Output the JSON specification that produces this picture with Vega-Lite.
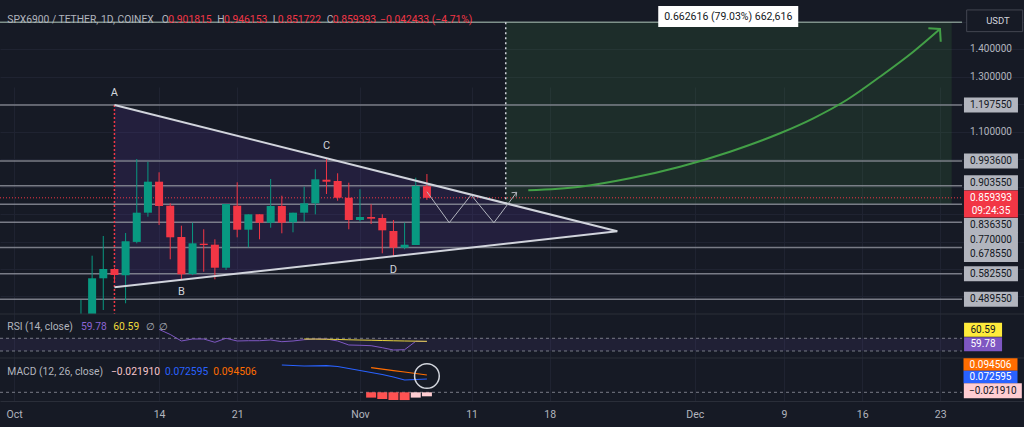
{
  "$schema": "https://vega.github.io/schema/vega-lite/v6.json",
  "background": "#161a25",
  "padding": {"left": 0, "top": 0, "right": 0, "bottom": 26},
  "width": 1024,
  "height": 401,
  "autosize": {"type": "none"},
  "config": {
    "view": {"stroke": null},
    "font": "Roboto",
    "text": {"font": "Roboto"}
  },
  "datasets": {
    "candles": [
      {"date": "2024-10-07T00:00:00Z", "open": 0.38, "high": 0.487, "low": 0.37, "close": 0.4},
      {"date": "2024-10-08T00:00:00Z", "open": 0.4, "high": 0.6485, "low": 0.39, "close": 0.5661},
      {"date": "2024-10-09T00:00:00Z", "open": 0.5661, "high": 0.7203, "low": 0.4506, "close": 0.6},
      {"date": "2024-10-10T00:00:00Z", "open": 0.6, "high": 0.605, "low": 0.55, "close": 0.5781},
      {"date": "2024-10-11T00:00:00Z", "open": 0.577, "high": 0.7312, "low": 0.475, "close": 0.7009},
      {"date": "2024-10-12T00:00:00Z", "open": 0.6987, "high": 1.0009, "low": 0.6936, "close": 0.8052},
      {"date": "2024-10-13T00:00:00Z", "open": 0.8052, "high": 0.991, "low": 0.7906, "close": 0.9182},
      {"date": "2024-10-14T00:00:00Z", "open": 0.9182, "high": 0.9524, "low": 0.7603, "close": 0.8296},
      {"date": "2024-10-15T00:00:00Z", "open": 0.8307, "high": 0.8394, "low": 0.6353, "close": 0.7155},
      {"date": "2024-10-16T00:00:00Z", "open": 0.7166, "high": 0.7578, "low": 0.5599, "close": 0.5807},
      {"date": "2024-10-17T00:00:00Z", "open": 0.5818, "high": 0.7687, "low": 0.5781, "close": 0.6936},
      {"date": "2024-10-18T00:00:00Z", "open": 0.6922, "high": 0.7447, "low": 0.5901, "close": 0.6875},
      {"date": "2024-10-19T00:00:00Z", "open": 0.6885, "high": 0.7082, "low": 0.5624, "close": 0.6047},
      {"date": "2024-10-20T00:00:00Z", "open": 0.6047, "high": 0.8369, "low": 0.5963, "close": 0.8369},
      {"date": "2024-10-21T00:00:00Z", "open": 0.8307, "high": 0.916, "low": 0.7155, "close": 0.7432},
      {"date": "2024-10-22T00:00:00Z", "open": 0.7432, "high": 0.7993, "low": 0.6791, "close": 0.7993},
      {"date": "2024-10-23T00:00:00Z", "open": 0.7993, "high": 0.7993, "low": 0.7082, "close": 0.7687},
      {"date": "2024-10-24T00:00:00Z", "open": 0.7687, "high": 0.928, "low": 0.7505, "close": 0.8296},
      {"date": "2024-10-25T00:00:00Z", "open": 0.8296, "high": 0.8671, "low": 0.7301, "close": 0.7687},
      {"date": "2024-10-26T00:00:00Z", "open": 0.7702, "high": 0.8052, "low": 0.7337, "close": 0.8052},
      {"date": "2024-10-27T00:00:00Z", "open": 0.8052, "high": 0.8999, "low": 0.7724, "close": 0.8394},
      {"date": "2024-10-28T00:00:00Z", "open": 0.8394, "high": 0.9633, "low": 0.7993, "close": 0.9269},
      {"date": "2024-10-29T00:00:00Z", "open": 0.9254, "high": 1.0009, "low": 0.8733, "close": 0.9182},
      {"date": "2024-10-30T00:00:00Z", "open": 0.9207, "high": 0.9488, "low": 0.8489, "close": 0.8598},
      {"date": "2024-10-31T00:00:00Z", "open": 0.8598, "high": 0.9145, "low": 0.7447, "close": 0.7786},
      {"date": "2024-11-01T00:00:00Z", "open": 0.7786, "high": 0.8905, "low": 0.7724, "close": 0.7895},
      {"date": "2024-11-02T00:00:00Z", "open": 0.7895, "high": 0.8358, "low": 0.764, "close": 0.7833},
      {"date": "2024-11-03T00:00:00Z", "open": 0.7859, "high": 0.7993, "low": 0.6572, "close": 0.741},
      {"date": "2024-11-04T00:00:00Z", "open": 0.7385, "high": 0.7786, "low": 0.6437, "close": 0.6776},
      {"date": "2024-11-05T00:00:00Z", "open": 0.6776, "high": 0.7687, "low": 0.6718, "close": 0.6885},
      {"date": "2024-11-06T00:00:00Z", "open": 0.6875, "high": 0.9327, "low": 0.6875, "close": 0.9025},
      {"date": "2024-11-07T00:00:00Z", "open": 0.901815, "high": 0.946153, "low": 0.851722, "close": 0.859393}
    ],
    "levels": [
      {"price": 1.19755}, {"price": 0.9936}, {"price": 0.90355}, {"price": 0.83635},
      {"price": 0.77}, {"price": 0.67855}, {"price": 0.58255}, {"price": 0.48955}
    ],
    "ticks": [{"price": 1.4}, {"price": 1.3}, {"price": 1.1}],
    "last": [{"price": 0.859393, "timer": "09:24:35"}],
    "target": [{"start": "2024-11-14T01:30:00Z", "end": "2024-12-24T00:30:00Z", "low": 0.83635, "high": 1.498966, "label": "0.662616 (79.03%) 662,616", "mid": "2024-12-04T00:00:00Z"}],
    "triangle": [
      {"date": "2024-10-10T00:00:00Z", "upper": 1.19755, "lower": 0.5333},
      {"date": "2024-11-24T01:26:00Z", "upper": 0.7374, "lower": 0.7374}
    ],
    "zigzag": [
      {"i": 0, "date": "2024-11-07T00:00:00Z", "price": 0.8817},
      {"i": 1, "date": "2024-11-09T00:00:00Z", "price": 0.7687},
      {"i": 2, "date": "2024-11-10T23:00:00Z", "price": 0.8697},
      {"i": 3, "date": "2024-11-13T00:00:00Z", "price": 0.7687},
      {"i": 4, "date": "2024-11-15T01:00:00Z", "price": 0.8795}
    ],
    "zighead": [
      {"i": 0, "date": "2024-11-14T14:00:00Z", "price": 0.8781},
      {"i": 1, "date": "2024-11-15T01:00:00Z", "price": 0.8795},
      {"i": 2, "date": "2024-11-14T23:40:00Z", "price": 0.8635}
    ],
    "curve": [
      {"i": 0, "date": "2024-11-16T02:00:00Z", "price": 0.8868},
      {"i": 1, "date": "2024-11-20T17:15:00Z", "price": 0.9},
      {"i": 2, "date": "2024-11-25T04:45:00Z", "price": 0.9305},
      {"i": 3, "date": "2024-11-29T16:20:00Z", "price": 0.9728},
      {"i": 4, "date": "2024-12-04T03:50:00Z", "price": 1.0275},
      {"i": 5, "date": "2024-12-08T15:20:00Z", "price": 1.0946},
      {"i": 6, "date": "2024-12-11T15:00:00Z", "price": 1.1492},
      {"i": 7, "date": "2024-12-14T14:40:00Z", "price": 1.2159},
      {"i": 8, "date": "2024-12-17T14:20:00Z", "price": 1.3008},
      {"i": 9, "date": "2024-12-20T14:00:00Z", "price": 1.392},
      {"i": 10, "date": "2024-12-22T23:20:00Z", "price": 1.4747}
    ],
    "curvehead": [
      {"i": 0, "date": "2024-12-21T22:20:00Z", "price": 1.4772},
      {"i": 1, "date": "2024-12-22T23:20:00Z", "price": 1.4747},
      {"i": 2, "date": "2024-12-23T01:00:00Z", "price": 1.4284}
    ],
    "letters": [
      {"t": "A", "date": "2024-10-10T00:00:00Z", "price": 1.2414},
      {"t": "B", "date": "2024-10-16T00:00:00Z", "price": 0.5162},
      {"t": "C", "date": "2024-10-29T00:00:00Z", "price": 1.0483},
      {"t": "D", "date": "2024-11-04T00:00:00Z", "price": 0.5963}
    ],
    "header": [
      {"t": "SPX6900 / TETHER, 1D, COINEX", "at": "2024-09-30T09:36:00Z", "k": "lab"},
      {"t": "O", "at": "2024-10-14T05:38:00Z", "k": "lab"},
      {"t": "0.901815", "at": "2024-10-14T19:50:00Z", "k": "val"},
      {"t": "H", "at": "2024-10-19T05:12:00Z", "k": "lab"},
      {"t": "0.946153", "at": "2024-10-19T19:36:00Z", "k": "val"},
      {"t": "L", "at": "2024-10-24T04:19:00Z", "k": "lab"},
      {"t": "0.851722", "at": "2024-10-24T15:07:00Z", "k": "val"},
      {"t": "C", "at": "2024-10-29T00:29:00Z", "k": "lab"},
      {"t": "0.859393", "at": "2024-10-29T13:26:00Z", "k": "val"},
      {"t": "−0.042433 (−4.71%)", "at": "2024-11-02T19:12:00Z", "k": "val"}
    ],
    "rsi": [
      {"date": "2024-10-14T00:00:00Z", "rsi": 98}, {"date": "2024-10-15T00:00:00Z", "rsi": 82}, {"date": "2024-10-16T00:00:00Z", "rsi": 61.5},
      {"date": "2024-10-17T00:00:00Z", "rsi": 67.8}, {"date": "2024-10-18T00:00:00Z", "rsi": 67.8}, {"date": "2024-10-19T00:00:00Z", "rsi": 57.4},
      {"date": "2024-10-20T00:00:00Z", "rsi": 70}, {"date": "2024-10-21T00:00:00Z", "rsi": 61.5}, {"date": "2024-10-22T00:00:00Z", "rsi": 62.4},
      {"date": "2024-10-23T00:00:00Z", "rsi": 62.4}, {"date": "2024-10-24T00:00:00Z", "rsi": 64.6}, {"date": "2024-10-25T00:00:00Z", "rsi": 59.3},
      {"date": "2024-10-26T00:00:00Z", "rsi": 61.5}, {"date": "2024-10-27T00:00:00Z", "rsi": 65.6}, {"date": "2024-10-28T00:00:00Z", "rsi": 67.8},
      {"date": "2024-10-29T00:00:00Z", "rsi": 67.8}, {"date": "2024-10-30T00:00:00Z", "rsi": 61.5}, {"date": "2024-10-31T00:00:00Z", "rsi": 48.9},
      {"date": "2024-11-01T00:00:00Z", "rsi": 48}, {"date": "2024-11-02T00:00:00Z", "rsi": 46.7}, {"date": "2024-11-03T00:00:00Z", "rsi": 40.4},
      {"date": "2024-11-04T00:00:00Z", "rsi": 33.1}, {"date": "2024-11-05T00:00:00Z", "rsi": 34.1}, {"date": "2024-11-06T00:00:00Z", "rsi": 60.5},
      {"date": "2024-11-07T00:00:00Z", "rsi": 59.78}
    ],
    "rsima": [
      {"date": "2024-10-27T00:00:00Z", "ma": 67.8}, {"date": "2024-10-28T00:00:00Z", "ma": 67.5}, {"date": "2024-10-29T00:00:00Z", "ma": 67.0},
      {"date": "2024-10-30T00:00:00Z", "ma": 66.3}, {"date": "2024-10-31T00:00:00Z", "ma": 65.3}, {"date": "2024-11-01T00:00:00Z", "ma": 64.5},
      {"date": "2024-11-02T00:00:00Z", "ma": 63.8}, {"date": "2024-11-03T00:00:00Z", "ma": 63.0}, {"date": "2024-11-04T00:00:00Z", "ma": 62.2},
      {"date": "2024-11-05T00:00:00Z", "ma": 61.5}, {"date": "2024-11-06T00:00:00Z", "ma": 61.0}, {"date": "2024-11-07T00:00:00Z", "ma": 60.59}
    ],
    "rsilevels": [{"v": 70}, {"v": 30}],
    "rsiband": [{"hi": 70, "lo": 30}],
    "rsiheader": [
      {"t": "RSI (14, close)", "at": "2024-09-30T09:36:00Z", "k": "lab"},
      {"t": "59.78", "at": "2024-10-07T00:05:00Z", "k": "rsi"},
      {"t": "60.59", "at": "2024-10-09T21:36:00Z", "k": "ma"},
      {"t": "∅", "at": "2024-10-12T19:55:00Z", "k": "lab"},
      {"t": "∅", "at": "2024-10-14T00:30:00Z", "k": "lab"}
    ],
    "macd": [
      {"date": "2024-10-25T00:00:00Z", "macd": 0.1492}, {"date": "2024-10-26T00:00:00Z", "macd": 0.1464}, {"date": "2024-10-27T00:00:00Z", "macd": 0.1437},
      {"date": "2024-10-28T00:00:00Z", "macd": 0.1448}, {"date": "2024-10-29T00:00:00Z", "macd": 0.1459}, {"date": "2024-10-30T00:00:00Z", "macd": 0.141},
      {"date": "2024-10-31T00:00:00Z", "macd": 0.1301}, {"date": "2024-11-01T00:00:00Z", "macd": 0.1191}, {"date": "2024-11-02T00:00:00Z", "macd": 0.1082},
      {"date": "2024-11-03T00:00:00Z", "macd": 0.0973}, {"date": "2024-11-04T00:00:00Z", "macd": 0.0836}, {"date": "2024-11-05T00:00:00Z", "macd": 0.0672},
      {"date": "2024-11-06T00:00:00Z", "macd": 0.0699}, {"date": "2024-11-07T00:00:00Z", "macd": 0.072595}
    ],
    "signal": [
      {"date": "2024-11-02T00:00:00Z", "signal": 0.1344}, {"date": "2024-11-03T00:00:00Z", "signal": 0.1262}, {"date": "2024-11-04T00:00:00Z", "signal": 0.1186},
      {"date": "2024-11-05T00:00:00Z", "signal": 0.1109}, {"date": "2024-11-06T00:00:00Z", "signal": 0.1027}, {"date": "2024-11-07T00:00:00Z", "signal": 0.094506}
    ],
    "hist": [
      {"date": "2024-11-02T00:00:00Z", "hist": -0.029}, {"date": "2024-11-03T00:00:00Z", "hist": -0.0366}, {"date": "2024-11-04T00:00:00Z", "hist": -0.042},
      {"date": "2024-11-05T00:00:00Z", "hist": -0.0425}, {"date": "2024-11-06T00:00:00Z", "hist": -0.029}, {"date": "2024-11-07T00:00:00Z", "hist": -0.02191}
    ],
    "macdheader": [
      {"t": "MACD (12, 26, close)", "at": "2024-09-30T09:36:00Z", "k": "lab"},
      {"t": "−0.021910", "at": "2024-10-09T16:34:00Z", "k": "hist"},
      {"t": "0.072595", "at": "2024-10-14T12:43:00Z", "k": "macd"},
      {"t": "0.094506", "at": "2024-10-18T20:38:00Z", "k": "signal"}
    ],
    "circle": [{"date": "2024-11-07T00:00:00Z", "v": 0.0891}]
  },
  "layer": [
    {
      "layer": [
        {
          "data": {"name": "target"},
          "mark": {"type": "rect", "color": "#4caf50", "opacity": 0.13},
          "encoding": {
            "x": {"field": "start", "type": "temporal",
              "scale": {"type": "utc", "domain": [1727632413000, 1735560159000], "padding": 0, "nice": false},
              "axis": {"title": null, "labels": true, "ticks": false, "domain": true, "domainColor": "#2a2e39", "grid": true, "gridColor": "#1f2331", "minExtent": 26, "maxExtent": 26,
                "labelColor": "#b2b5be", "labelFontSize": 10.5, "labelFont": "Roboto", "labelPadding": 8, "labelFlush": false, "labelOverlap": false, "labelAlign": "center",
                "labelExpr": "utcdate(datum.value) == 1 ? utcFormat(datum.value, '%b') : utcFormat(datum.value, '%-d')",
                "values": [1727740800000, 1728864000000, 1729468800000, 1730419200000, 1731283200000, 1731888000000, 1733011200000, 1733702400000, 1734307200000, 1734912000000]}},
            "x2": {"field": "end"},
            "y": {"field": "low", "type": "quantitative",
              "scale": {"domain": [0.43598, 1.58038], "range": [314, 0], "nice": false, "zero": false, "clamp": true},
              "axis": {"title": null, "labels": false, "ticks": false, "domain": false, "grid": true, "gridColor": "#1f2331", "minExtent": 0, "maxExtent": 0,
                "values": [0.5, 0.6, 0.7, 0.8, 0.9, 1.0, 1.1, 1.2, 1.3, 1.4, 1.5]}},
            "y2": {"field": "high"}
          }
        },
        {
          "data": {"name": "triangle"},
          "mark": {"type": "area", "color": "#673ab7", "opacity": 0.17},
          "encoding": {
            "x": {"field": "date", "type": "temporal"},
            "y": {"field": "upper", "type": "quantitative"},
            "y2": {"field": "lower"}
          }
        },
        {
          "data": {"name": "levels"},
          "mark": {"type": "rule", "color": "#8b8e98", "strokeWidth": 1.5, "opacity": 0.85},
          "encoding": {
            "x": {"datum": 1727632413000, "type": "temporal"},
            "x2": {"datum": 1735080600000},
            "y": {"field": "price", "type": "quantitative"}
          }
        },
        {
          "data": {"name": "target"},
          "mark": {"type": "rule", "color": "#8fa39a", "strokeWidth": 1.5, "opacity": 0.85},
          "encoding": {
            "x": {"datum": 1727632413000, "type": "temporal"},
            "x2": {"datum": 1735080600000},
            "y": {"field": "high", "type": "quantitative"}
          }
        },
        {
          "data": {"name": "last"},
          "mark": {"type": "rule", "color": "#f23645", "strokeWidth": 1, "strokeDash": [1, 2]},
          "encoding": {
            "x": {"datum": 1727632413000, "type": "temporal"},
            "x2": {"datum": 1735080600000},
            "y": {"field": "price", "type": "quantitative"}
          }
        },
        {
          "data": {"name": "triangle"},
          "transform": [{"filter": "datum.upper > 1"}],
          "mark": {"type": "rule", "color": "#f23645", "strokeWidth": 1.5, "strokeDash": [2, 2]},
          "encoding": {
            "x": {"field": "date", "type": "temporal"},
            "y": {"field": "upper", "type": "quantitative"},
            "y2": {"datum": 0.43598}
          }
        },
        {
          "data": {"name": "target"},
          "mark": {"type": "rule", "color": "#d1d4dc", "strokeWidth": 1.5, "strokeDash": [2, 3]},
          "encoding": {
            "x": {"field": "start", "type": "temporal"},
            "y": {"field": "high", "type": "quantitative"},
            "y2": {"datum": 0.827}
          }
        },
        {
          "data": {"name": "candles"},
          "mark": {"type": "rule", "strokeWidth": 1},
          "encoding": {
            "x": {"field": "date", "type": "temporal"},
            "y": {"field": "low", "type": "quantitative"},
            "y2": {"field": "high"},
            "color": {"condition": {"test": "datum.close >= datum.open", "value": "#089981"}, "value": "#f23645"}
          }
        },
        {
          "data": {"name": "candles"},
          "mark": {"type": "bar", "width": 8},
          "encoding": {
            "x": {"field": "date", "type": "temporal"},
            "y": {"field": "open", "type": "quantitative"},
            "y2": {"field": "close"},
            "color": {"condition": {"test": "datum.close >= datum.open", "value": "#089981"}, "value": "#f23645"}
          }
        },
        {
          "data": {"name": "triangle"},
          "mark": {"type": "line", "color": "#d1d4dc", "strokeWidth": 2},
          "encoding": {
            "x": {"field": "date", "type": "temporal"},
            "y": {"field": "upper", "type": "quantitative"}
          }
        },
        {
          "data": {"name": "triangle"},
          "mark": {"type": "line", "color": "#d1d4dc", "strokeWidth": 2},
          "encoding": {
            "x": {"field": "date", "type": "temporal"},
            "y": {"field": "lower", "type": "quantitative"}
          }
        },
        {
          "data": {"name": "zigzag"},
          "mark": {"type": "line", "color": "#b2b5be", "strokeWidth": 1},
          "encoding": {
            "x": {"field": "date", "type": "temporal"},
            "y": {"field": "price", "type": "quantitative"},
            "order": {"field": "i"}
          }
        },
        {
          "data": {"name": "zighead"},
          "mark": {"type": "line", "color": "#b2b5be", "strokeWidth": 1},
          "encoding": {
            "x": {"field": "date", "type": "temporal"},
            "y": {"field": "price", "type": "quantitative"},
            "order": {"field": "i"}
          }
        },
        {
          "data": {"name": "curve"},
          "mark": {"type": "line", "color": "#43a047", "strokeWidth": 2, "interpolate": "monotone"},
          "encoding": {
            "x": {"field": "date", "type": "temporal"},
            "y": {"field": "price", "type": "quantitative"},
            "order": {"field": "i"}
          }
        },
        {
          "data": {"name": "curvehead"},
          "mark": {"type": "line", "color": "#43a047", "strokeWidth": 2},
          "encoding": {
            "x": {"field": "date", "type": "temporal"},
            "y": {"field": "price", "type": "quantitative"},
            "order": {"field": "i"}
          }
        },
        {
          "data": {"name": "letters"},
          "mark": {"type": "text", "color": "#d1d4dc", "fontSize": 11, "align": "center", "baseline": "middle"},
          "encoding": {
            "x": {"field": "date", "type": "temporal"},
            "y": {"field": "price", "type": "quantitative"},
            "text": {"field": "t"}
          }
        },
        {
          "data": {"name": "header"},
          "mark": {"type": "text", "fontSize": 10.3, "align": "left", "baseline": "middle"},
          "encoding": {
            "x": {"field": "at", "type": "temporal"},
            "y": {"datum": 1.5075, "type": "quantitative"},
            "text": {"field": "t"},
            "color": {"condition": {"test": "datum.k == 'val'", "value": "#f23645"}, "value": "#b2b5be"}
          }
        },
        {
          "data": {"name": "ticks"},
          "mark": {"type": "text", "fontSize": 10, "align": "center", "baseline": "middle", "color": "#b2b5be"},
          "encoding": {
            "x": {"datum": 1735304400000, "type": "temporal"},
            "y": {"field": "price", "type": "quantitative"},
            "text": {"field": "price", "type": "quantitative", "format": ".6f"}
          }
        },
        {
          "data": {"name": "levels"},
          "transform": [{"filter": {"field": "price", "oneOf": [1.19755, 0.9936, 0.58255, 0.48955]}}],
          "layer": [
            {"mark": {"type": "point", "shape": "M-1,-0.278L1,-0.278L1,0.278L-1,0.278Z", "size": 2916, "filled": true, "color": "#b2b5be", "opacity": 1}},
            {"mark": {"type": "text", "fontSize": 10, "align": "center", "baseline": "middle", "color": "#131722"},
             "encoding": {"text": {"field": "price", "type": "quantitative", "format": ".6f"}}}
          ],
          "encoding": {
            "x": {"datum": 1735304400000, "type": "temporal"},
            "y": {"field": "price", "type": "quantitative"}
          }
        },
        {
          "data": {"name": "levels"},
          "transform": [{"filter": {"field": "price", "oneOf": [0.90355]}}],
          "layer": [
            {"mark": {"type": "point", "shape": "M-1,-0.278L1,-0.278L1,0.278L-1,0.278Z", "size": 2916, "filled": true, "color": "#b2b5be", "opacity": 1, "yOffset": -3}},
            {"mark": {"type": "text", "fontSize": 10, "align": "center", "baseline": "middle", "color": "#131722", "yOffset": -3},
             "encoding": {"text": {"field": "price", "type": "quantitative", "format": ".6f"}}}
          ],
          "encoding": {
            "x": {"datum": 1735304400000, "type": "temporal"},
            "y": {"field": "price", "type": "quantitative"}
          }
        },
        {
          "data": {"name": "levels"},
          "transform": [{"filter": {"field": "price", "oneOf": [0.67855]}}],
          "layer": [
            {"mark": {"type": "point", "shape": "M-1,-0.278L1,-0.278L1,0.278L-1,0.278Z", "size": 2916, "filled": true, "color": "#b2b5be", "opacity": 1, "yOffset": 7}},
            {"mark": {"type": "text", "fontSize": 10, "align": "center", "baseline": "middle", "color": "#131722", "yOffset": 7},
             "encoding": {"text": {"field": "price", "type": "quantitative", "format": ".6f"}}}
          ],
          "encoding": {
            "x": {"datum": 1735304400000, "type": "temporal"},
            "y": {"field": "price", "type": "quantitative"}
          }
        },
        {
          "data": {"name": "levels"},
          "transform": [{"filter": {"field": "price", "oneOf": [0.77]}}],
          "layer": [
            {"mark": {"type": "point", "shape": "M-1,-0.278L1,-0.278L1,0.278L-1,0.278Z", "size": 2916, "filled": true, "color": "#b2b5be", "opacity": 1, "yOffset": 17.2}},
            {"mark": {"type": "text", "fontSize": 10, "align": "center", "baseline": "middle", "color": "#131722", "yOffset": 17.2},
             "encoding": {"text": {"field": "price", "type": "quantitative", "format": ".6f"}}}
          ],
          "encoding": {
            "x": {"datum": 1735304400000, "type": "temporal"},
            "y": {"field": "price", "type": "quantitative"}
          }
        },
        {
          "data": {"name": "levels"},
          "transform": [{"filter": {"field": "price", "oneOf": [0.83635]}}],
          "layer": [
            {"mark": {"type": "point", "shape": "M-1,-0.278L1,-0.278L1,0.278L-1,0.278Z", "size": 2916, "filled": true, "color": "#b2b5be", "opacity": 1, "yOffset": 21.3}},
            {"mark": {"type": "text", "fontSize": 10, "align": "center", "baseline": "middle", "color": "#131722", "yOffset": 21.3},
             "encoding": {"text": {"field": "price", "type": "quantitative", "format": ".6f"}}}
          ],
          "encoding": {
            "x": {"datum": 1735304400000, "type": "temporal"},
            "y": {"field": "price", "type": "quantitative"}
          }
        },
        {
          "data": {"name": "last"},
          "layer": [
            {"mark": {"type": "point", "shape": "M-1,-0.27L1,-0.27L1,0.73L-1,0.73Z", "size": 2916, "filled": true, "color": "#f23645", "opacity": 1}},
            {"mark": {"type": "text", "fontSize": 10, "align": "center", "baseline": "middle", "color": "#ffffff"},
             "encoding": {"text": {"field": "price", "type": "quantitative", "format": ".6f"}}},
            {"mark": {"type": "text", "fontSize": 10, "align": "center", "baseline": "middle", "color": "#ffffff", "yOffset": 13},
             "encoding": {"text": {"field": "timer"}}}
          ],
          "encoding": {
            "x": {"datum": 1735304400000, "type": "temporal"},
            "y": {"field": "price", "type": "quantitative"}
          }
        },
        {
          "data": {"name": "target"},
          "layer": [
            {"mark": {"type": "point", "shape": "M-1,-0.3875L1,-0.3875L1,0.3875L-1,0.3875Z", "size": 3136, "filled": true, "color": "#161a25", "stroke": "#434651", "strokeWidth": 1, "opacity": 1},
             "encoding": {"x": {"datum": 1735333200000, "type": "temporal"}}},
            {"mark": {"type": "text", "fontSize": 9.5, "align": "left", "baseline": "middle", "color": "#d1d4dc", "text": "USDT"},
             "encoding": {"x": {"datum": 1735267200000, "type": "temporal"}}}
          ],
          "encoding": {
            "y": {"datum": 1.5046, "type": "quantitative"}
          }
        },
        {
          "data": {"name": "target"},
          "layer": [
            {"mark": {"type": "point", "shape": "M-1,-0.15L1,-0.15L1,0.15L-1,0.15Z", "size": 19600, "filled": true, "color": "#ffffff", "opacity": 1}},
            {"mark": {"type": "text", "fontSize": 10.5, "align": "center", "baseline": "middle", "color": "#131722"},
             "encoding": {"text": {"field": "label"}}}
          ],
          "encoding": {
            "x": {"field": "mid", "type": "temporal"},
            "y": {"datum": 1.5202, "type": "quantitative"}
          }
        }
      ]
    },
    {
      "layer": [
        {
          "data": {"name": "rsiband"},
          "mark": {"type": "rect", "color": "#7e57c2", "opacity": 0.1},
          "encoding": {
            "x": {"datum": 1727632413000, "type": "temporal"},
            "x2": {"datum": 1735080600000},
            "y": {"field": "hi", "type": "quantitative",
              "scale": {"domain": [7.95, 146.5], "range": [358, 314], "nice": false, "zero": false},
              "axis": null},
            "y2": {"field": "lo"}
          }
        },
        {
          "data": {"name": "rsiband"},
          "mark": {"type": "rule", "color": "#2a2e39", "strokeWidth": 1},
          "encoding": {
            "y": {"datum": 146.5, "type": "quantitative"}
          }
        },
        {
          "data": {"name": "rsiband"},
          "mark": {"type": "rule", "color": "#2a2e39", "strokeWidth": 1},
          "encoding": {
            "y": {"datum": 7.95, "type": "quantitative"}
          }
        },
        {
          "data": {"name": "rsilevels"},
          "mark": {"type": "rule", "color": "#787b86", "strokeWidth": 1, "strokeDash": [3, 3]},
          "encoding": {
            "x": {"datum": 1727632413000, "type": "temporal"},
            "x2": {"datum": 1735080600000},
            "y": {"field": "v", "type": "quantitative"}
          }
        },
        {
          "data": {"name": "rsi"},
          "mark": {"type": "line", "color": "#7e57c2", "strokeWidth": 1},
          "encoding": {
            "x": {"field": "date", "type": "temporal"},
            "y": {"field": "rsi", "type": "quantitative"}
          }
        },
        {
          "data": {"name": "rsima"},
          "mark": {"type": "line", "color": "#e8d43a", "strokeWidth": 1},
          "encoding": {
            "x": {"field": "date", "type": "temporal"},
            "y": {"field": "ma", "type": "quantitative"}
          }
        },
        {
          "data": {"name": "rsiheader"},
          "mark": {"type": "text", "fontSize": 10.3, "align": "left", "baseline": "middle"},
          "encoding": {
            "x": {"field": "at", "type": "temporal"},
            "y": {"datum": 104.6, "type": "quantitative"},
            "text": {"field": "t"},
            "color": {"condition": [{"test": "datum.k == 'rsi'", "value": "#8c64d4"}, {"test": "datum.k == 'ma'", "value": "#f0dc3c"}], "value": "#b2b5be"}
          }
        },
        {
          "data": {"name": "rsima"},
          "transform": [{"filter": "datum.ma == 60.59"}],
          "layer": [
            {"mark": {"type": "point", "shape": "M-1,-0.368L1,-0.368L1,0.368L-1,0.368Z", "size": 1444, "filled": true, "color": "#ffeb3b", "opacity": 1, "yOffset": -11.6}},
            {"mark": {"type": "text", "fontSize": 10, "align": "center", "baseline": "middle", "color": "#131722", "yOffset": -11.6},
             "encoding": {"text": {"field": "ma", "type": "quantitative", "format": ".2f"}}}
          ],
          "encoding": {
            "x": {"datum": 1735243200000, "type": "temporal"},
            "y": {"field": "ma", "type": "quantitative"}
          }
        },
        {
          "data": {"name": "rsi"},
          "transform": [{"filter": "datum.rsi == 59.78"}],
          "layer": [
            {"mark": {"type": "point", "shape": "M-1,-0.368L1,-0.368L1,0.368L-1,0.368Z", "size": 1444, "filled": true, "color": "#7e57c2", "opacity": 1, "yOffset": 2.7}},
            {"mark": {"type": "text", "fontSize": 10, "align": "center", "baseline": "middle", "color": "#ffffff", "yOffset": 2.7},
             "encoding": {"text": {"field": "rsi", "type": "quantitative", "format": ".2f"}}}
          ],
          "encoding": {
            "x": {"datum": 1735243200000, "type": "temporal"},
            "y": {"field": "rsi", "type": "quantitative"}
          }
        }
      ]
    },
    {
      "layer": [
        {
          "data": {"name": "rsiband"},
          "mark": {"type": "rule", "color": "#787b86", "strokeWidth": 1, "strokeDash": [3, 3]},
          "encoding": {
            "x": {"datum": 1727632413000, "type": "temporal"},
            "x2": {"datum": 1735080600000},
            "y": {"datum": 0, "type": "quantitative",
              "scale": {"domain": [-0.04754, 0.18743], "range": [401, 358], "nice": false, "zero": false},
              "axis": null}
          }
        },
        {
          "data": {"name": "hist"},
          "transform": [{"window": [{"op": "lag", "field": "hist", "as": "prev"}], "sort": [{"field": "date"}]}],
          "mark": {"type": "bar", "width": 10},
          "encoding": {
            "x": {"field": "date", "type": "temporal"},
            "y": {"field": "hist", "type": "quantitative"},
            "y2": {"datum": 0},
            "color": {"condition": {"test": "datum.prev != null && datum.hist > datum.prev", "value": "#ffcdd2"}, "value": "#ff5252"}
          }
        },
        {
          "data": {"name": "macd"},
          "mark": {"type": "line", "color": "#2962ff", "strokeWidth": 1.2},
          "encoding": {
            "x": {"field": "date", "type": "temporal"},
            "y": {"field": "macd", "type": "quantitative"}
          }
        },
        {
          "data": {"name": "signal"},
          "mark": {"type": "line", "color": "#ff6d00", "strokeWidth": 1.2},
          "encoding": {
            "x": {"field": "date", "type": "temporal"},
            "y": {"field": "signal", "type": "quantitative"}
          }
        },
        {
          "data": {"name": "circle"},
          "mark": {"type": "point", "shape": "circle", "size": 610, "filled": false, "color": "#d1d4dc", "strokeWidth": 1.5, "opacity": 1},
          "encoding": {
            "x": {"field": "date", "type": "temporal"},
            "y": {"field": "v", "type": "quantitative"}
          }
        },
        {
          "data": {"name": "macdheader"},
          "mark": {"type": "text", "fontSize": 10.3, "align": "left", "baseline": "middle"},
          "encoding": {
            "x": {"field": "at", "type": "temporal"},
            "y": {"datum": 0.1093, "type": "quantitative"},
            "text": {"field": "t"},
            "color": {"condition": [{"test": "datum.k == 'hist'", "value": "#f7c6cc"}, {"test": "datum.k == 'macd'", "value": "#2962ff"}, {"test": "datum.k == 'signal'", "value": "#ff6d00"}], "value": "#b2b5be"}
          }
        },
        {
          "data": {"name": "signal"},
          "transform": [{"filter": "datum.signal == 0.094506"}],
          "layer": [
            {"mark": {"type": "point", "shape": "M-1,-0.231L1,-0.231L1,0.231L-1,0.231Z", "size": 2916, "filled": true, "color": "#ff6d00", "opacity": 1, "yOffset": -10.5}},
            {"mark": {"type": "text", "fontSize": 10, "align": "center", "baseline": "middle", "color": "#ffffff", "yOffset": -10.5},
             "encoding": {"text": {"field": "signal", "type": "quantitative", "format": ".6f"}}}
          ],
          "encoding": {
            "x": {"datum": 1735300800000, "type": "temporal"},
            "y": {"field": "signal", "type": "quantitative"}
          }
        },
        {
          "data": {"name": "macd"},
          "transform": [{"filter": "datum.macd == 0.072595"}],
          "layer": [
            {"mark": {"type": "point", "shape": "M-1,-0.231L1,-0.231L1,0.231L-1,0.231Z", "size": 2916, "filled": true, "color": "#2962ff", "opacity": 1, "yOffset": -2}},
            {"mark": {"type": "text", "fontSize": 10, "align": "center", "baseline": "middle", "color": "#ffffff", "yOffset": -2},
             "encoding": {"text": {"field": "macd", "type": "quantitative", "format": ".6f"}}}
          ],
          "encoding": {
            "x": {"datum": 1735300800000, "type": "temporal"},
            "y": {"field": "macd", "type": "quantitative"}
          }
        },
        {
          "data": {"name": "hist"},
          "transform": [{"filter": "datum.hist == -0.02191"}],
          "layer": [
            {"mark": {"type": "point", "shape": "M-1,-0.259L1,-0.259L1,0.259L-1,0.259Z", "size": 3364, "filled": true, "color": "#ffcdd2", "opacity": 1, "yOffset": -5.5}},
            {"mark": {"type": "text", "fontSize": 10, "align": "center", "baseline": "middle", "color": "#131722", "yOffset": -5.5},
             "encoding": {"text": {"field": "hist", "type": "quantitative", "format": ".6f"}}}
          ],
          "encoding": {
            "x": {"datum": 1735318800000, "type": "temporal"},
            "y": {"field": "hist", "type": "quantitative"}
          }
        }
      ]
    }
  ],
  "resolve": {"scale": {"y": "independent"}, "axis": {"y": "independent"}}
}
